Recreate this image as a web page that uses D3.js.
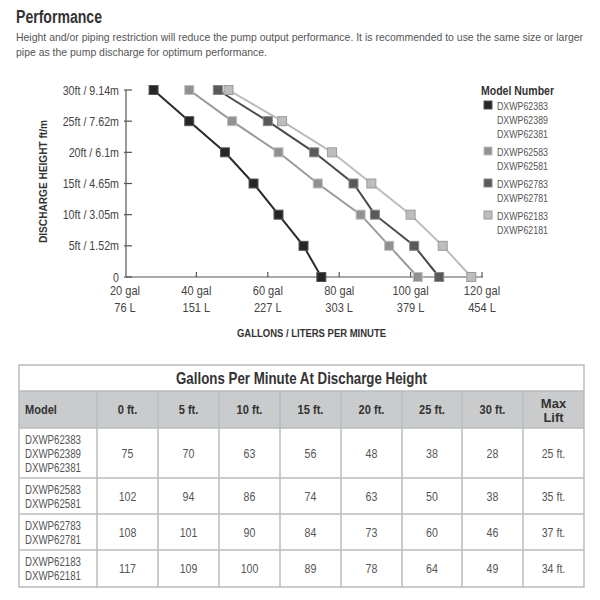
<!DOCTYPE html>
<html>
<head>
<meta charset="utf-8">
<script src="https://cdn.jsdelivr.net/npm/d3@7"></script>
<style>
body { margin: 0; background: #fff; }
svg { font-family: "Liberation Sans", Arial, sans-serif; }
</style>
</head>
<body>
<div id="chart"></div>
<script>
var heights = [0, 5, 10, 15, 20, 25, 30];
var heightLabels = ["0", "5ft / 1.52m", "10ft / 3.05m", "15ft / 4.65m", "20ft / 6.1m", "25ft / 7.62m", "30ft / 9.14m"];
var galTicks = [20, 40, 60, 80, 100, 120];
var literLabels = ["76 L", "151 L", "227 L", "303 L", "379 L", "454 L"];

var modelGroups = [
	["DXWP62383", "DXWP62389", "DXWP62381"],
	["DXWP62583", "DXWP62581"],
	["DXWP62783", "DXWP62781"],
	["DXWP62183", "DXWP62181"]
];
var gpm62383 = [75, 70, 63, 56, 48, 38, 28];
var gpm62583 = [102, 94, 86, 74, 63, 50, 38];
var gpm62783 = [108, 101, 90, 84, 73, 60, 46];
var gpm62183 = [117, 109, 100, 89, 78, 64, 49];
var maxLift = ["25 ft.", "35 ft.", "37 ft.", "34 ft."];
var tableHeaders = ["Model", "0 ft.", "5 ft.", "10 ft.", "15 ft.", "20 ft.", "25 ft.", "30 ft.", "Max Lift"];

var series = [gpm62383, gpm62583, gpm62783, gpm62183];
var fills = ["#262626", "#919191", "#595959", "#bdbdbd"];
var strokes = ["#2a2a2a", "#9a9a9a", "#4a4a4a", "#bcbcbc"];
var edges = ["#555", "#bdbdbd", "#888", "#9c9c9c"];

var svg = d3.select("#chart").append("svg")
	.attr("width", 600)
	.attr("height", 600);

// squeeze a text to a given width (the source uses a condensed face)
function squeeze(sel, w) {
	sel.attr("textLength", w).attr("lengthAdjust", "spacingAndGlyphs");
	return sel;
}
// same, but by a factor of the measured width
function narrow(sel, f) {
	sel.each(function () {
		var w = this.getComputedTextLength();
		d3.select(this).attr("textLength", w * f).attr("lengthAdjust", "spacingAndGlyphs");
	});
	return sel;
}

// heading
squeeze(svg.append("text").attr("x", 16).attr("y", 23)
	.attr("font-size", 18).attr("font-weight", "bold").attr("fill", "#333")
	.text("Performance"), 86);
squeeze(svg.append("text").attr("x", 16).attr("y", 41)
	.attr("font-size", 10.4).attr("fill", "#555")
	.text("Height and/or piping restriction will reduce the pump output performance. It is recommended to use the same size or larger"), 567);
squeeze(svg.append("text").attr("x", 16).attr("y", 56)
	.attr("font-size", 10.4).attr("fill", "#555")
	.text("pipe as the pump discharge for optimum performance."), 251);

// scales
var x = d3.scaleLinear().domain([20, 120]).range([125, 482]);
var y = d3.scaleLinear().domain([0, 30]).range([277, 90]);

var plot = svg.append("g");

// y axis
plot.append("line").attr("x1", 126).attr("x2", 126).attr("y1", y(30)).attr("y2", y(0))
	.attr("stroke", "#555").attr("stroke-width", 1.2);
plot.selectAll(".ytick").data(heights).enter().append("line")
	.attr("x1", 124).attr("x2", 132)
	.attr("y1", function (d) { return y(d); }).attr("y2", function (d) { return y(d); })
	.attr("stroke", "#555").attr("stroke-width", 1.2);
narrow(plot.selectAll(".ylab").data(heights).enter().append("text")
	.attr("x", 119).attr("y", function (d) { return y(d) + 4.5; })
	.attr("text-anchor", "end").attr("font-size", 13).attr("fill", "#444")
	.text(function (d, i) { return heightLabels[i]; }), 0.82);

// x axis
plot.append("line").attr("x1", 126).attr("x2", x(120) + 1).attr("y1", y(0)).attr("y2", y(0))
	.attr("stroke", "#555").attr("stroke-width", 1.2);
plot.selectAll(".xtick").data(galTicks.slice(1)).enter().append("line")
	.attr("x1", function (d) { return x(d); }).attr("x2", function (d) { return x(d); })
	.attr("y1", y(0)).attr("y2", y(0) - 5)
	.attr("stroke", "#555").attr("stroke-width", 1.2);
narrow(plot.selectAll(".xlab").data(galTicks).enter().append("text")
	.attr("x", function (d) { return x(d); }).attr("y", 295)
	.attr("text-anchor", "middle").attr("font-size", 13).attr("fill", "#444")
	.text(function (d) { return d + " gal"; }), 0.85);
narrow(plot.selectAll(".llab").data(galTicks).enter().append("text")
	.attr("x", function (d) { return x(d); }).attr("y", 312)
	.attr("text-anchor", "middle").attr("font-size", 13).attr("fill", "#444")
	.text(function (d, i) { return literLabels[i]; }), 0.85);

// axis titles
squeeze(plot.append("text").attr("x", 237).attr("y", 337)
	.attr("font-size", 11.5).attr("font-weight", "bold").attr("fill", "#333")
	.text("GALLONS / LITERS PER MINUTE"), 149);
squeeze(plot.append("text").attr("transform", "translate(47,243) rotate(-90)")
	.attr("font-size", 11.5).attr("font-weight", "bold").attr("fill", "#333")
	.text("DISCHARGE HEIGHT ft/m"), 123);

// lines + markers
var line = d3.line()
	.x(function (d, i) { return x(d); })
	.y(function (d, i) { return y(heights[i]); });

series.forEach(function (s, k) {
	plot.append("path").datum(s).attr("d", line)
		.attr("fill", "none").attr("stroke", strokes[k]).attr("stroke-width", 2);
});
series.forEach(function (s, k) {
	plot.selectAll(".m" + k).data(s).enter().append("rect")
		.attr("x", function (d) { return x(d) - 4.5; })
		.attr("y", function (d, i) { return y(heights[i]) - 4.5; })
		.attr("width", 9).attr("height", 9)
		.attr("fill", fills[k]).attr("stroke", edges[k]).attr("stroke-width", 1);
});

// legend
var legend = svg.append("g");
squeeze(legend.append("text").attr("x", 481).attr("y", 95)
	.attr("font-size", 12).attr("font-weight", "bold").attr("fill", "#333")
	.text("Model Number"), 73);
var legendY = [105, 151, 183, 215];
modelGroups.forEach(function (names, k) {
	legend.append("rect").attr("x", 484).attr("y", legendY[k] - 4)
		.attr("width", 8).attr("height", 8)
		.attr("fill", fills[k]).attr("stroke", edges[k]).attr("stroke-width", 1);
	names.forEach(function (n, j) {
		squeeze(legend.append("text").attr("x", 497).attr("y", legendY[k] + 4.5 + j * 14)
			.attr("font-size", 11.5).attr("fill", "#555")
			.text(n), 51);
	});
});

// table
var colX = [19, 97, 158, 219, 280, 341, 402, 462, 523, 584];
var rowY = [365, 391, 428, 478, 514, 550, 587];
var table = svg.append("g");
var border = "#b9bdbe";

table.append("rect").attr("x", colX[0]).attr("y", rowY[1]).attr("width", colX[9] - colX[0]).attr("height", rowY[2] - rowY[1])
	.attr("fill", "#c9cbcc");
table.append("rect").attr("x", colX[0]).attr("y", rowY[0]).attr("width", colX[9] - colX[0]).attr("height", rowY[6] - rowY[0])
	.attr("fill", "none").attr("stroke", border).attr("stroke-width", 1.5);
rowY.slice(1, 6).forEach(function (ry) {
	table.append("line").attr("x1", colX[0]).attr("x2", colX[9]).attr("y1", ry).attr("y2", ry)
		.attr("stroke", border).attr("stroke-width", 1.5);
});
colX.slice(1, 9).forEach(function (cx) {
	table.append("line").attr("x1", cx).attr("x2", cx).attr("y1", rowY[1]).attr("y2", rowY[6])
		.attr("stroke", border).attr("stroke-width", 1.5);
});

squeeze(table.append("text").attr("x", 176).attr("y", 384)
	.attr("font-size", 16.5).attr("font-weight", "bold").attr("fill", "#333")
	.text("Gallons Per Minute At Discharge Height"), 251);

tableHeaders.forEach(function (h, c) {
	var t = table.append("text").attr("font-size", 13).attr("font-weight", "bold").attr("fill", "#333");
	var cx = (colX[c] + colX[c + 1]) / 2;
	if (c == 0) {
		t.attr("x", colX[0] + 6).attr("y", 414).text(h);
	} else if (h == "Max Lift") {
		t.attr("text-anchor", "middle");
		t.append("tspan").attr("x", cx).attr("y", 408).text("Max");
		t.append("tspan").attr("x", cx).attr("y", 422).text("Lift");
	} else {
		t.attr("x", cx).attr("y", 414).attr("text-anchor", "middle").text(h);
	}
	if (h != "Max Lift") narrow(t, 0.85);
});

series.forEach(function (s, r) {
	var top = rowY[r + 2], bot = rowY[r + 3], mid = (top + bot) / 2;
	var names = modelGroups[r];
	names.forEach(function (n, j) {
		squeeze(table.append("text").attr("x", colX[0] + 6)
			.attr("y", mid + 4.5 + (j - (names.length - 1) / 2) * 14)
			.attr("font-size", 12).attr("fill", "#555").text(n), 56);
	});
	s.forEach(function (v, c) {
		narrow(table.append("text").attr("x", (colX[c + 1] + colX[c + 2]) / 2).attr("y", mid + 4.5)
			.attr("text-anchor", "middle").attr("font-size", 12.5).attr("fill", "#555").text(v), 0.85);
	});
	narrow(table.append("text").attr("x", (colX[8] + colX[9]) / 2).attr("y", mid + 4.5)
		.attr("text-anchor", "middle").attr("font-size", 12.5).attr("fill", "#555").text(maxLift[r]), 0.85);
});
</script>
</body>
</html>
